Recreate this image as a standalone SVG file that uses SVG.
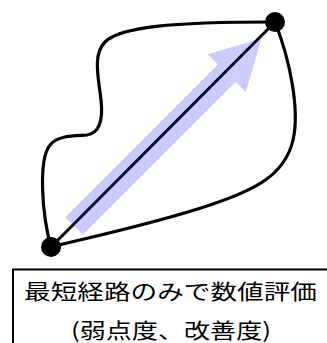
<svg xmlns="http://www.w3.org/2000/svg" width="327" height="343" viewBox="0 0 327 343">
<style>
.curve{fill:none;stroke:#000;stroke-width:3.2;stroke-linecap:round;stroke-linejoin:round}
.dot{fill:#000}
.lbl{font-family:"Noto Sans CJK JP","Noto Sans",sans-serif;font-size:21px;font-weight:normal;fill:#000;text-anchor:middle}
</style>
<g id="connectors">
<path class="curve" d="M51,247 C42,215 38,160 50,145 C58,135 75,136 87,135 C100,133 103,118 101,100 C99,80 92,55 105,42 C120,27 170,22 275,22"/>
<path class="curve" d="M275,22 C290,60 300,110 293,140 C285,175 255,190 210,205 C160,222 100,235 51,247"/>
<line x1="51" y1="247" x2="275" y2="22" stroke="#000" stroke-width="3"/>
<polygon id="arrow" transform="translate(74,226) rotate(-45)" points="0,-12.5 216,-12.5 216,-27 265,0 216,27 216,12.5 0,12.5" fill="#0000ff" fill-opacity="0.2"/>
</g>
<g id="start"><circle class="dot" cx="51" cy="247" r="10"/></g>
<g id="end"><circle class="dot" cx="275" cy="22" r="10"/></g>
<g id="label">
<rect x="13" y="269.5" width="330" height="100" fill="#fff" stroke="#000" stroke-width="2"/>
<text class="lbl" x="170.5" y="299" textLength="293" lengthAdjust="spacingAndGlyphs">最短経路のみで数値評価</text>
<text class="lbl" x="171" y="337.5" textLength="200" lengthAdjust="spacingAndGlyphs">(弱点度、改善度)</text>
</g>
</svg>
